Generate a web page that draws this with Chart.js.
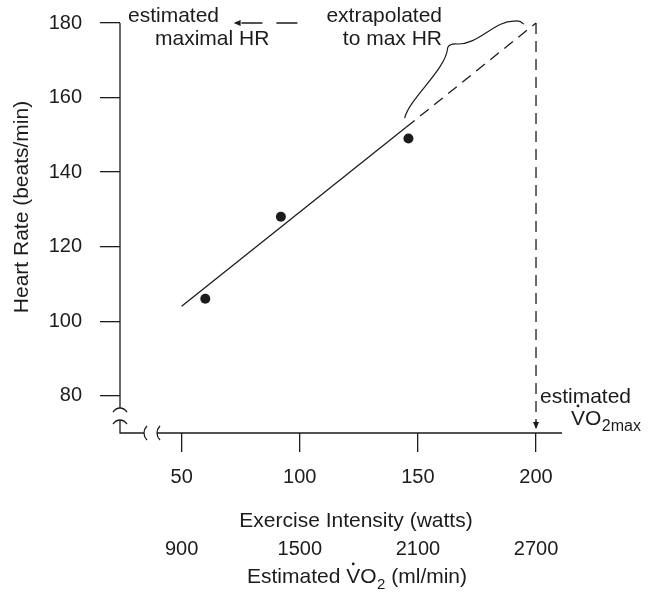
<!DOCTYPE html>
<html>
<head>
<meta charset="utf-8">
<script src="https://cdn.jsdelivr.net/npm/chart.js@4.4.0/dist/chart.umd.min.js"></script>
<style>
  html, body { margin: 0; padding: 0; background: #fff; }
</style>
</head>
<body>
<canvas id="myChart" width="652" height="595"></canvas>
<script>
// values
const watts = [60, 92, 146];
const heartRate = [106, 128, 149];
const fitWatts = [50, 145];
const fitHR = [104, 152];
const extraWatts = [145, 200];
const extraHR = [152, 180];
const maxHR = 180;
const maxWatts = 200;
const arrowWatts = [99, 72];

const wattTicks = [50, 100, 150, 200];
const vo2Ticks = [900, 1500, 2100, 2700];
const hrTicks = [80, 100, 120, 140, 160, 180];

const X_MIN = 23.9, X_MAX = 211;
const toVO2 = w => 900 + (w - 50) * 12;

const INK = '#1c1c1c';
const FONT = "'Liberation Sans', Arial, Helvetica, sans-serif";
const F21 = '21px ' + FONT;
Chart.defaults.font.family = FONT;
Chart.defaults.color = INK;

const pts = (xs, ys) => xs.map((x, i) => ({ x: x, y: ys[i] }));

function arrowHead(ctx, tipX, tipY, dx, dy) {
  // dx,dy: direction the arrow points to
  const len = 7, half = 3;
  ctx.beginPath();
  ctx.moveTo(tipX, tipY);
  ctx.lineTo(tipX - dx * len - dy * half, tipY - dy * len + dx * half);
  ctx.lineTo(tipX - dx * len + dy * half, tipY - dy * len - dx * half);
  ctx.closePath();
  ctx.fill();
}

// V with a dot over it, O, then a subscript
function drawVO2(ctx, left, base, sub, subSize) {
  ctx.font = F21;
  ctx.textAlign = 'left';
  ctx.textBaseline = 'alphabetic';
  const vw = ctx.measureText('V').width;
  ctx.fillText('VO', left, base);
  const w = ctx.measureText('VO').width;
  ctx.beginPath();
  ctx.arc(left + vw / 2, base - 21 * 0.716 - 4, 1.4, 0, Math.PI * 2);
  ctx.fill();
  ctx.font = subSize + 'px ' + FONT;
  ctx.fillText(sub, left + w + 0.5, base + 6);
  const end = left + w + 0.5 + ctx.measureText(sub).width;
  ctx.font = F21;
  return end;
}

const decor = {
  id: 'decor',
  afterDraw(chart) {
    const { ctx, chartArea: a, scales: { x, y } } = chart;
    const P = (w, hr) => [x.getPixelForValue(w), y.getPixelForValue(hr)];
    const L = a.left, B = a.bottom;
    ctx.save();
    ctx.strokeStyle = INK;
    ctx.fillStyle = INK;
    ctx.lineWidth = 1.3;
    ctx.setLineDash([]);

    // axes with breaks
    ctx.beginPath();
    ctx.moveTo(L, y.getPixelForValue(maxHR));
    ctx.lineTo(L, B - 25);
    ctx.moveTo(L, B - 13);
    ctx.lineTo(L, B);
    ctx.lineTo(L + 24, B);
    ctx.moveTo(L + 37, B);
    ctx.lineTo(a.right, B);
    ctx.stroke();

    ctx.beginPath();
    ctx.moveTo(L - 7, B - 21);
    ctx.quadraticCurveTo(L - 4, B - 25, L, B - 25);
    ctx.quadraticCurveTo(L + 4, B - 25, L + 7, B - 21);
    ctx.moveTo(L - 7, B - 9);
    ctx.quadraticCurveTo(L - 4, B - 13, L, B - 13);
    ctx.quadraticCurveTo(L + 4, B - 13, L + 7, B - 9);
    ctx.moveTo(L + 27, B - 7);
    ctx.quadraticCurveTo(L + 24, B - 4, L + 24, B);
    ctx.quadraticCurveTo(L + 24, B + 4, L + 27, B + 7);
    ctx.moveTo(L + 40, B - 7);
    ctx.quadraticCurveTo(L + 37, B - 4, L + 37, B);
    ctx.quadraticCurveTo(L + 37, B + 4, L + 40, B + 7);
    ctx.stroke();

    // arrowheads
    const [ax, ay] = P(arrowWatts[1], maxHR);
    arrowHead(ctx, ax, ay, -1, 0);
    const vx = x.getPixelForValue(maxWatts);
    ctx.beginPath();
    ctx.moveTo(vx, B - 12);
    ctx.lineTo(vx, B - 5);
    ctx.stroke();
    arrowHead(ctx, vx, B - 4, 0, 1);

    // brace
    ctx.lineWidth = 1.2;
    ctx.beginPath();
    ctx.moveTo(...P(144.4, 154.5));
    ctx.bezierCurveTo(...P(146.5, 159.9), ...P(161.8, 167.4), ...P(162.6, 173.3));
    ctx.quadraticCurveTo(...P(163.0, 174.4), ...P(166.0, 174.4));
    ctx.bezierCurveTo(...P(175.3, 173.8), ...P(182.5, 180.8), ...P(191.0, 180.5));
    ctx.quadraticCurveTo(...P(193.1, 180.8), ...P(194.8, 179.7));
    ctx.stroke();

    // texts
    ctx.font = F21;
    ctx.textBaseline = 'alphabetic';
    ctx.textAlign = 'left';
    ctx.fillText('estimated', 128, 22);
    ctx.fillText('maximal HR', 155, 45);
    ctx.textAlign = 'right';
    ctx.fillText('extrapolated', 442, 22);
    ctx.fillText('to max HR', 442, 45);
    ctx.textAlign = 'left';
    ctx.fillText('estimated', 540, 403);
    drawVO2(ctx, 571, 425, '2max', 16);

    ctx.font = F21;
    ctx.textAlign = 'center';
    ctx.fillText('Exercise Intensity (watts)', 356, 527);

    ctx.textAlign = 'left';
    ctx.fillText('Estimated ', 247, 583);
    let xx = 247 + ctx.measureText('Estimated ').width;
    xx = drawVO2(ctx, xx, 583, '2', 15);
    ctx.fillText(' (ml/min)', xx, 583);

    ctx.translate(22, 207);
    ctx.rotate(-Math.PI / 2);
    ctx.textAlign = 'center';
    ctx.textBaseline = 'middle';
    ctx.fillText('Heart Rate (beats/min)', 0, 0);
    ctx.restore();
  }
};

const ctx = document.getElementById('myChart').getContext('2d');

const lineStyle = { type: 'line', borderColor: INK, borderWidth: 1.3, pointRadius: 0, fill: false, clip: false };

const chart = new Chart(ctx, {
  type: 'scatter',
  data: {
    datasets: [
      { data: pts(watts, heartRate), pointRadius: 5, backgroundColor: INK, borderWidth: 0 },
      { ...lineStyle, data: pts(fitWatts, fitHR) },
      { ...lineStyle, data: pts(extraWatts, extraHR), borderDash: [11, 7] },
      { ...lineStyle, data: [{ x: maxWatts, y: maxHR }, { x: maxWatts, y: 71.5 }], borderDash: [11, 7] },
      { ...lineStyle, data: arrowWatts.map(w => ({ x: w, y: maxHR })), borderDash: [21, 14] }
    ]
  },
  options: {
    responsive: false,
    animation: false,
    devicePixelRatio: 1,
    layout: { padding: { top: 23, right: 90, left: 0, bottom: 0 } },
    plugins: { legend: { display: false }, tooltip: { enabled: false } },
    scales: {
      x: {
        type: 'linear', position: 'bottom', min: X_MIN, max: X_MAX, weight: 0,
        afterBuildTicks: s => { s.ticks = wattTicks.map(v => ({ value: v })); },
        afterFit: s => { s.height = 100; },
        grid: { drawOnChartArea: false, drawTicks: true, tickLength: 19, color: INK, lineWidth: 1.3 },
        border: { display: false },
        ticks: { padding: 13, font: { size: 20 }, color: INK, maxRotation: 0, callback: v => String(v) }
      },
      x2: {
        type: 'linear', position: 'bottom', min: toVO2(X_MIN), max: toVO2(X_MAX), weight: 1,
        afterBuildTicks: s => { s.ticks = vo2Ticks.map(v => ({ value: v })); },
        afterFit: s => { s.height = 62; },
        grid: { display: false, drawTicks: false },
        border: { display: false },
        ticks: { padding: 4, font: { size: 20 }, color: INK, maxRotation: 0, callback: v => String(v) }
      },
      y: {
        type: 'linear', min: 70, max: 180,
        afterBuildTicks: s => { s.ticks = hrTicks.map(v => ({ value: v })); },
        afterFit: s => { s.width = 120; s.paddingTop = 0; s.paddingBottom = 0; },
        grid: { drawOnChartArea: false, drawTicks: true, tickLength: 20, color: INK, lineWidth: 1.3 },
        border: { display: false },
        ticks: { padding: 18, font: { size: 20 }, color: INK, callback: v => String(v) }
      }
    }
  },
  plugins: [decor]
});
</script>
</body>
</html>
